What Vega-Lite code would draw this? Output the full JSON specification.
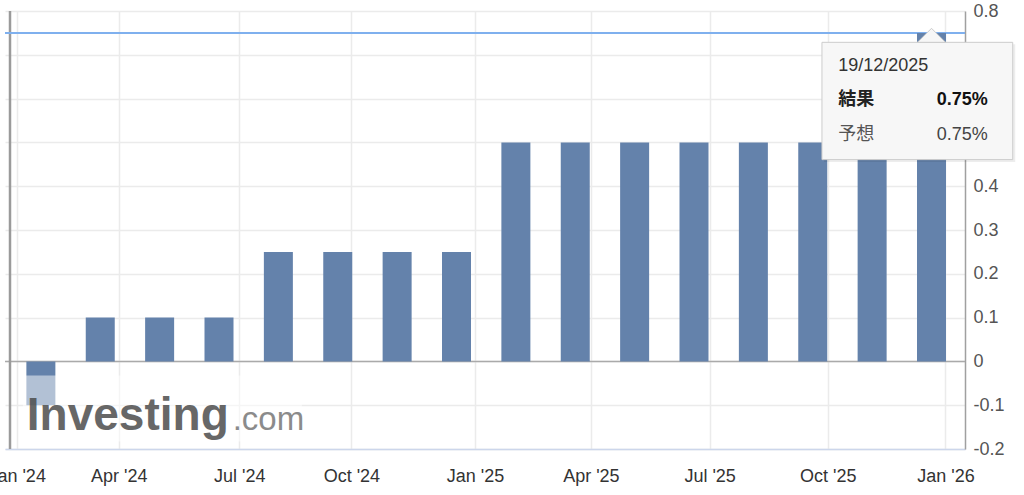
{
  "$schema": "https://vega.github.io/schema/vega-lite/v6.json",
  "width": 960,
  "height": 438,
  "autosize": {"type": "none"},
  "padding": {"left": 5, "top": 11, "right": 59, "bottom": 46},
  "background": "#ffffff",
  "config": {
    "view": {"stroke": null},
    "font": "Liberation Sans, Arial, Noto Sans CJK JP, sans-serif"
  },
  "datasets": {
    "rates": [
      {"i": 0, "date": "2024-01-23", "rate": -0.1},
      {"i": 1, "date": "2024-03-19", "rate": 0.1},
      {"i": 2, "date": "2024-04-26", "rate": 0.1},
      {"i": 3, "date": "2024-06-14", "rate": 0.1},
      {"i": 4, "date": "2024-07-31", "rate": 0.25},
      {"i": 5, "date": "2024-09-20", "rate": 0.25},
      {"i": 6, "date": "2024-10-31", "rate": 0.25},
      {"i": 7, "date": "2024-12-19", "rate": 0.25},
      {"i": 8, "date": "2025-01-24", "rate": 0.5},
      {"i": 9, "date": "2025-03-19", "rate": 0.5},
      {"i": 10, "date": "2025-05-01", "rate": 0.5},
      {"i": 11, "date": "2025-06-17", "rate": 0.5},
      {"i": 12, "date": "2025-07-31", "rate": 0.5},
      {"i": 13, "date": "2025-09-19", "rate": 0.5},
      {"i": 14, "date": "2025-10-30", "rate": 0.5},
      {"i": 15, "date": "2025-12-19", "rate": 0.75}
    ],
    "one": [{}]
  },
  "data": {"name": "one"},
  "encoding": {
    "x": {
      "type": "quantitative",
      "scale": {"domain": [-0.52, 15.48], "nice": false, "zero": false},
      "axis": {
        "orient": "bottom",
        "title": null,
        "values": [-0.408, 1.313, 3.342, 5.23, 7.313, 9.263, 11.263, 13.252, 15.235],
        "labelExpr": "datum.value < 0 ? \"Jan '24\" : datum.value < 2 ? \"Apr '24\" : datum.value < 4 ? \"Jul '24\" : datum.value < 6 ? \"Oct '24\" : datum.value < 8 ? \"Jan '25\" : datum.value < 10 ? \"Apr '25\" : datum.value < 12 ? \"Jul '25\" : datum.value < 14 ? \"Oct '25\" : \"Jan '26\"",
        "labelFlush": false,
        "labelOverlap": false,
        "labelFontSize": 18,
        "labelColor": "#333333",
        "labelPadding": 18,
        "ticks": false,
        "tickSize": 0,
        "grid": true,
        "gridColor": "#ebebeb",
        "gridWidth": 1.5,
        "domain": true,
        "domainColor": "#ccd6eb",
        "domainWidth": 1.5
      }
    },
    "y": {
      "type": "quantitative",
      "scale": {"domain": [-0.2, 0.8], "nice": false, "zero": false},
      "axis": {
        "orient": "right",
        "title": null,
        "values": [-0.2, -0.1, 0, 0.1, 0.2, 0.3, 0.4, 0.5, 0.6, 0.7, 0.8],
        "labelExpr": "datum.value + ''",
        "labelFontSize": 18,
        "labelColor": "#555555",
        "labelPadding": 8,
        "ticks": false,
        "tickSize": 0,
        "grid": true,
        "gridColor": "#ebebeb",
        "gridWidth": 1.5,
        "domain": true,
        "domainColor": "#a0a0a0",
        "domainWidth": 1.5
      }
    }
  },
  "layer": [
    {
      "mark": {"type": "rule", "color": "#aaaaaa", "strokeWidth": 1.5},
      "encoding": {"y": {"datum": 0}, "x": {"value": 0}, "x2": {"value": 960}}
    },
    {
      "mark": {"type": "rule", "color": "#9a9a9a", "strokeWidth": 2.5},
      "encoding": {"x": {"datum": -0.52}}
    },
    {
      "mark": {"type": "rule", "color": "#7fb0ee", "strokeWidth": 2},
      "encoding": {"y": {"datum": 0.75}, "x": {"value": 0}, "x2": {"value": 960}}
    },
    {
      "data": {"name": "rates"},
      "mark": {"type": "bar", "size": 29, "color": "#6482ab"},
      "encoding": {
        "x": {"field": "i", "type": "quantitative"},
        "y": {"field": "rate", "type": "quantitative"},
        "y2": {"datum": 0}
      }
    },
    {
      "mark": {"type": "rect", "color": "#ffffff", "opacity": 0.5},
      "encoding": {
        "x": {"datum": -0.303},
        "x2": {"datum": 4.397},
        "y": {"datum": -0.0324},
        "y2": {"datum": -0.183}
      }
    },
    {
      "mark": {"type": "text", "text": "Investing", "fontSize": 46, "fontWeight": "bold", "color": "#4d4d4d", "opacity": 0.85, "align": "left", "baseline": "alphabetic"},
      "encoding": {"x": {"datum": -0.237}, "y": {"datum": -0.1557}}
    },
    {
      "mark": {"type": "text", "text": ".com", "fontSize": 33, "color": "#777777", "opacity": 0.85, "align": "left", "baseline": "alphabetic"},
      "encoding": {"x": {"datum": 3.23}, "y": {"datum": -0.1557}}
    },
    {
      "mark": {"type": "rect", "color": "#000000", "opacity": 0.07},
      "encoding": {
        "x": {"datum": 13.19},
        "x2": {"datum": 16.41},
        "y": {"datum": 0.724},
        "y2": {"datum": 0.455}
      }
    },
    {
      "mark": {"type": "rect", "fill": "#f7f7f7", "stroke": "#cccccc", "strokeWidth": 1},
      "encoding": {
        "x": {"datum": 13.155},
        "x2": {"datum": 16.368},
        "y": {"datum": 0.7285},
        "y2": {"datum": 0.4607}
      }
    },
    {
      "mark": {"type": "point", "shape": "M-1,0L0,-1L1,0Z", "size": 784, "filled": true, "fill": "#f7f7f7", "stroke": "#cccccc", "strokeWidth": 1, "opacity": 1},
      "encoding": {"x": {"datum": 15.0}, "y": {"datum": 0.7285}}
    },
    {
      "mark": {"type": "text", "text": "19/12/2025", "fontSize": 18, "color": "#333333", "align": "left", "baseline": "middle"},
      "encoding": {"x": {"datum": 13.43}, "y": {"datum": 0.6737}}
    },
    {
      "mark": {"type": "text", "text": "結果", "fontSize": 18, "fontWeight": "bold", "color": "#222222", "align": "left", "baseline": "middle", "font": "Noto Sans CJK JP"},
      "encoding": {"x": {"datum": 13.43}, "y": {"datum": 0.5977}}
    },
    {
      "mark": {"type": "text", "text": "0.75%", "fontSize": 18, "fontWeight": "bold", "color": "#111111", "align": "right", "baseline": "middle"},
      "encoding": {"x": {"datum": 15.947}, "y": {"datum": 0.5977}}
    },
    {
      "mark": {"type": "text", "text": "予想", "fontSize": 18, "color": "#555555", "align": "left", "baseline": "middle", "font": "Noto Sans CJK JP"},
      "encoding": {"x": {"datum": 13.43}, "y": {"datum": 0.5162}}
    },
    {
      "mark": {"type": "text", "text": "0.75%", "fontSize": 18, "color": "#444444", "align": "right", "baseline": "middle"},
      "encoding": {"x": {"datum": 15.947}, "y": {"datum": 0.5162}}
    }
  ]
}
